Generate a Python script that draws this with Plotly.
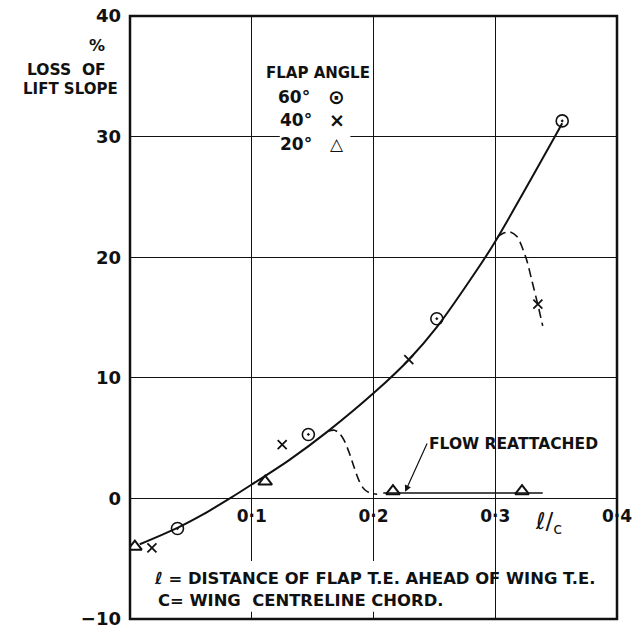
import plotly.graph_objects as go

# Measured loss of lift slope (%) against flap trailing-edge position l/c
flap60_x = [0.039, 0.1465, 0.252, 0.355]
flap60_y = [-2.5, 5.3, 14.9, 31.3]
flap40_x = [0.018, 0.125, 0.229, 0.335]
flap40_y = [-4.1, 4.45, 11.5, 16.1]
flap20_x = [0.004, 0.111, 0.216, 0.322]
flap20_y = [-4.0, 1.4, 0.6, 0.6]

# Faired curve through the attached-flow results
fair_x = [0.008, 0.039, 0.060, 0.082, 0.100, 0.131, 0.163, 0.202,
          0.229, 0.252, 0.286, 0.300, 0.349, 0.355]
fair_y = [-3.8, -2.44, -1.33, 0.0, 1.15, 3.2, 5.6, 8.9,
          11.5, 14.2, 19.1, 21.3, 30.0, 31.1]

# Breakaway branches (dashed)
stall_a_x = [0.163, 0.168, 0.172, 0.176, 0.180, 0.184, 0.188, 0.192, 0.197, 0.203]
stall_a_y = [5.6, 5.65, 5.4, 4.8, 3.8, 2.6, 1.5, 0.8, 0.45, 0.35]
stall_b_x = [0.302, 0.307, 0.312, 0.318, 0.322, 0.326, 0.330, 0.335, 0.339]
stall_b_y = [21.7, 22.0, 22.1, 21.7, 20.85, 19.7, 18.1, 16.06, 14.3]

# Flow reattached level for the 20 deg flap
reattach_x = [0.208, 0.339]
reattach_y = [0.45, 0.45]

x_ticks = [0.1, 0.2, 0.3, 0.4]
x_ticktext = ["0·1", "0·2", "0·3", "0·4"]
y_ticks = [-10, 0, 10, 20, 30, 40]
y_ticktext = ["−10", "0", "10", "20", "30", "40"]

FONT = "DejaVu Sans"
INK = "#111111"

fig = go.Figure()

fig.add_trace(go.Scatter(x=fair_x, y=fair_y, mode="lines",
                         line=dict(color=INK, width=2, shape="spline", smoothing=0.9)))
fig.add_trace(go.Scatter(x=stall_a_x, y=stall_a_y, mode="lines",
                         line=dict(color=INK, width=1.6, dash="9px,5px",
                                   shape="spline", smoothing=0.8)))
fig.add_trace(go.Scatter(x=stall_b_x, y=stall_b_y, mode="lines",
                         line=dict(color=INK, width=1.6, dash="9px,5px",
                                   shape="spline", smoothing=0.8)))
fig.add_trace(go.Scatter(x=reattach_x, y=reattach_y, mode="lines",
                         line=dict(color=INK, width=1.6)))

fig.add_trace(go.Scatter(x=flap60_x, y=flap60_y, mode="markers",
                         marker=dict(symbol="circle-open-dot", size=12, color=INK,
                                     line=dict(width=1.6, color=INK))))
fig.add_trace(go.Scatter(x=flap40_x, y=flap40_y, mode="markers",
                         marker=dict(symbol="x-thin-open", size=9, color=INK,
                                     line=dict(width=1.8, color=INK))))
fig.add_trace(go.Scatter(x=flap20_x, y=flap20_y, mode="markers",
                         marker=dict(symbol="triangle-up-open", size=12, color=INK,
                                     line=dict(width=2, color=INK))))

shapes = [
    # white patches behind the key and the footnote
    dict(type="rect", xref="x", yref="y", x0=0.123, x1=0.181, y0=28.8, y1=36.0,
         fillcolor="white", line=dict(width=0), layer="between"),
    dict(type="rect", xref="x", yref="y", x0=0.005, x1=0.27, y0=-9.4, y1=-5.2,
         fillcolor="white", line=dict(width=0), layer="between"),
    # frame
    dict(type="rect", xref="paper", yref="paper", x0=0, x1=1, y0=0, y1=1,
         line=dict(color=INK, width=2.5), layer="above"),
]


def note(text, x, y, size, xanchor="center", xref="x", yref="y", weight="bold"):
    return dict(text=text, x=x, y=y, xref=xref, yref=yref, xanchor=xanchor,
                yanchor="middle", showarrow=False,
                font=dict(family=FONT, size=size, color=INK, weight=weight))


annotations = [
    note("%", -0.068, 0.951, 16, xref="paper", yref="paper"),
    note("LOSS  OF", -0.131, 0.911, 15.5, xref="paper", yref="paper"),
    note("LIFT SLOPE", -0.123, 0.879, 15, xref="paper", yref="paper"),
    note("FLAP ANGLE", 0.154, 35.3, 15),
    note("60°", 0.135, 33.3, 17),
    note("40°", 0.136, 31.4, 17),
    note("20°", 0.136, 29.4, 17),
    note("⊙", 0.170, 33.25, 20),
    note("×", 0.170, 31.35, 19),
    note("△", 0.170, 29.35, 17),
    # label with its pointer down to the reattached-flow line
    dict(text="FLOW REATTACHED", x=0.226, y=0.55, ax=0.244, ay=4.55,
         xref="x", yref="y", axref="x", ayref="y", xanchor="left", yanchor="middle",
         showarrow=True, arrowhead=2, arrowsize=1.1, arrowwidth=1.2, arrowcolor=INK,
         font=dict(family=FONT, size=15.5, color=INK, weight="bold")),
    note("<i>ℓ</i>/<sub>c</sub>", 0.344, -2.0, 23, weight="normal"),
    note("<i>ℓ</i> = DISTANCE OF FLAP T.E. AHEAD OF WING T.E.", 0.018, -6.66, 16.4,
         xanchor="left"),
    note("C= WING  CENTRELINE CHORD.", 0.021, -8.46, 16.4, xanchor="left"),
]

fig.update_layout(
    width=634, height=631,
    margin=dict(l=130, r=17, t=16, b=12),
    paper_bgcolor="white", plot_bgcolor="white",
    showlegend=False,
    shapes=shapes, annotations=annotations,
    font=dict(family=FONT, color=INK),
    xaxis=dict(range=[0, 0.4], tickvals=x_ticks, ticktext=x_ticktext,
               anchor="free", position=0.2, showline=False, zeroline=False,
               showgrid=True, gridcolor=INK, gridwidth=1, ticks="",
               ticklabelstandoff=6, automargin=False,
               tickfont=dict(family=FONT, size=17, color=INK, weight="bold")),
    yaxis=dict(range=[-10, 40], tickvals=y_ticks, ticktext=y_ticktext,
               showline=False, zeroline=False, showgrid=True, gridcolor=INK,
               gridwidth=1, ticks="", ticklabelstandoff=8, automargin=False,
               tickfont=dict(family=FONT, size=18, color=INK, weight="bold")),
)

fig.write_html("out.html")
